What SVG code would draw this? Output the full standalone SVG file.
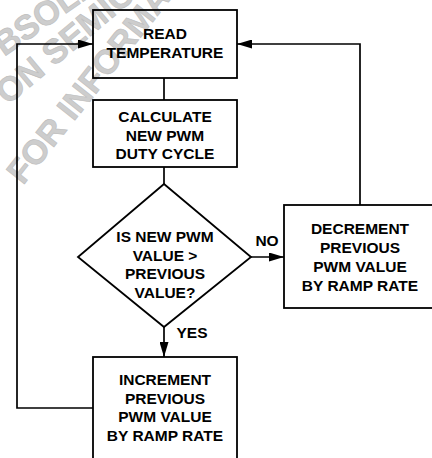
<svg xmlns="http://www.w3.org/2000/svg" width="432" height="458" viewBox="0 0 432 458">
<style>
.wm{font-family:"Liberation Sans",Arial,sans-serif;font-weight:bold;font-size:34px;fill:#cdcdcd;stroke:#bdbdbd;stroke-width:0.6}
.box{fill:none;stroke:#000;stroke-width:1.8}
.t{font-family:"Liberation Sans",Arial,sans-serif;font-weight:bold;font-size:15.5px;fill:#000;text-anchor:middle}
.c{fill:none;stroke:#000;stroke-width:1.7}
</style>
<defs>
<marker id="ah" markerWidth="15" markerHeight="9" refX="15" refY="4.5" orient="auto" markerUnits="userSpaceOnUse">
<path d="M0,0 L15,4.5 L0,9 Z" fill="#000"/>
</marker>
</defs>
<g id="watermark">
<text class="wm" transform="translate(7,40) rotate(-35)" x="-38.8" y="12.2">OBSOLETE</text>
<text class="wm" transform="translate(10,88) rotate(-40)" x="-13.2" y="12.2">ON SEMICONDUCTOR</text>
<text class="wm" transform="translate(20,170) rotate(-51.6)" x="-10.4" y="12.2">FOR INFORMATION</text>
</g>
<g id="connectors">
<line class="c" x1="164" y1="78" x2="164" y2="100"/>
<line class="c" x1="164" y1="167" x2="164" y2="184"/>
<line class="c" x1="251" y1="257" x2="284" y2="257" marker-end="url(#ah)"/>
<line class="c" x1="164" y1="327" x2="164" y2="357" marker-end="url(#ah)"/>
<path class="c" d="M93,408 H17 V44 H93" marker-end="url(#ah)"/>
<path class="c" d="M360,205 V44 H237" marker-end="url(#ah)"/>
<text class="t" x="267" y="246">NO</text>
<text class="t" x="192" y="338">YES</text>
</g>
<g id="read">
<rect class="box" x="93" y="10" width="144" height="68"/>
<text class="t" x="165" y="39">READ</text>
<text class="t" x="165" y="58">TEMPERATURE</text>
</g>
<g id="calc">
<rect class="box" x="93" y="100" width="144" height="67"/>
<text class="t" x="165" y="122">CALCULATE</text>
<text class="t" x="165" y="141">NEW PWM</text>
<text class="t" x="165" y="159">DUTY CYCLE</text>
</g>
<g id="decision">
<polygon class="box" points="164,184 251,257 164,327 78,257"/>
<text class="t" x="165" y="242">IS NEW PWM</text>
<text class="t" x="165" y="261">VALUE &gt;</text>
<text class="t" x="165" y="279">PREVIOUS</text>
<text class="t" x="165" y="298">VALUE?</text>
</g>
<g id="decrement">
<rect class="box" x="284" y="205" width="160" height="103"/>
<text class="t" x="360" y="234">DECREMENT</text>
<text class="t" x="360" y="253">PREVIOUS</text>
<text class="t" x="360" y="272">PWM VALUE</text>
<text class="t" x="360" y="291">BY RAMP RATE</text>
</g>
<g id="increment">
<rect class="box" x="93" y="357" width="144" height="115"/>
<text class="t" x="165" y="385">INCREMENT</text>
<text class="t" x="165" y="404">PREVIOUS</text>
<text class="t" x="165" y="422">PWM VALUE</text>
<text class="t" x="165" y="441">BY RAMP RATE</text>
</g>
</svg>
